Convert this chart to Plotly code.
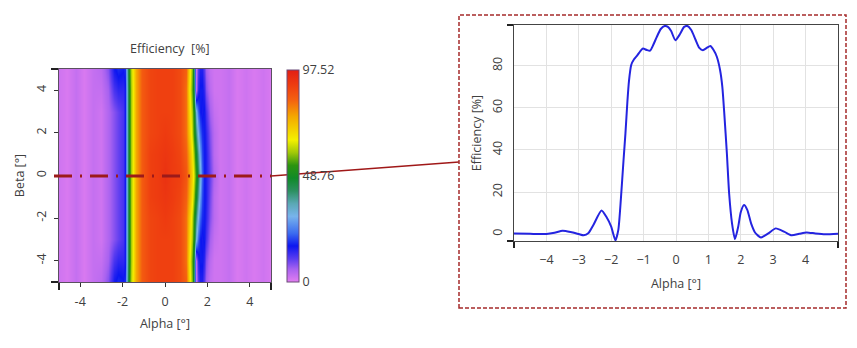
import plotly.graph_objects as go

W, H = 857, 348

# ---------------- heatmap data (Efficiency [%] vs Alpha/Beta) ----------------
alpha_grid = [-5.0, -4.6, -4.2, -3.8, -3.4, -3.0, -2.7, -2.4, -2.2, -2.0, -1.9, -1.8, -1.7,
              -1.6, -1.5, -1.35, -1.1, -0.7, -0.35, 0.0, 0.35, 0.7, 1.0, 1.15, 1.25, 1.35,
              1.45, 1.55, 1.65, 1.75, 1.85, 1.95, 2.1, 2.3, 2.6, 3.0, 3.4, 3.8, 4.2, 4.6, 5.0]
beta_grid = [-5, -4, -3, -2, -1, 0, 1, 2, 3, 4, 5]

row_b0 = [2, 1, 3, 1, 3, 2, 5, 8, 10, 12, 16, 34, 50, 60, 66, 76, 85, 90, 91, 93, 91, 90, 86,
          78, 70, 62, 53, 43, 33, 22, 17, 15, 10, 5, 2, 3, 1, 2, 1, 2, 1]
row_b1 = [2, 1, 3, 1, 3, 2, 5, 8, 10, 12, 16, 34, 50, 60, 66, 76, 85, 90, 91, 92, 91, 89, 84,
          76, 67, 58, 48, 38, 28, 20, 17, 15, 9, 4, 2, 3, 1, 2, 1, 2, 1]
row_b2 = [2, 1, 3, 1, 3, 2, 5, 8, 10, 12, 16, 34, 50, 60, 66, 76, 85, 89, 90, 91, 90, 88, 82,
          72, 62, 52, 40, 30, 22, 18, 17, 14, 8, 4, 2, 3, 1, 2, 1, 2, 1]
row_b3 = [2, 1, 3, 1, 3, 2, 5, 8, 10, 12, 16, 34, 50, 60, 66, 76, 85, 89, 90, 90, 90, 88, 82,
          70, 60, 50, 32, 22, 17, 16, 17, 12, 6, 3, 2, 3, 1, 2, 1, 2, 1]
row_b4 = [2, 1, 3, 1, 3, 3, 6, 12, 14, 14, 16, 34, 50, 60, 66, 76, 85, 89, 90, 90, 90, 88, 82,
          68, 56, 42, 4, 14, 17, 17, 14, 8, 4, 2, 2, 3, 1, 2, 1, 2, 1]
row_b5 = [2, 1, 3, 1, 3, 4, 8, 16, 18, 17, 18, 36, 52, 61, 67, 76, 85, 89, 90, 90, 90, 88, 84,
          70, 58, 40, 3, 11, 15, 15, 11, 6, 3, 2, 2, 3, 1, 2, 1, 2, 1]
heat_rows = [row_b5, row_b4, row_b3, row_b2, row_b1, row_b0, row_b1, row_b2, row_b3, row_b4, row_b5]

eff_min, eff_max = 0, 97.52
cbar_tickvals = [0, 48.76, 97.52]
cbar_ticktext = ["0", "48.76", "97.52"]

heat_ticks = [-4, -2, 0, 2, 4]
heat_ticktext = ["-4", "-2", "0", "2", "4"]

# ---------------- cut at Beta = 0 ----------------
alpha_cut = [-5.0, -4.5, -4.0, -3.75, -3.5, -3.25, -3.0, -2.85, -2.7, -2.55, -2.3, -2.15, -2.0,
             -1.87, -1.78, -1.7, -1.62, -1.56, -1.5, -1.45, -1.38, -1.3, -1.2, -1.1, -1.02,
             -0.9, -0.8, -0.7, -0.6, -0.47, -0.35, -0.25, -0.15, -0.02, 0.12, 0.25, 0.35,
             0.47, 0.6, 0.72, 0.83, 0.95, 1.06, 1.16, 1.26, 1.36, 1.43, 1.49, 1.57, 1.64,
             1.73, 1.82, 1.92, 2.0, 2.1, 2.2, 2.32, 2.45, 2.62, 2.85, 3.08, 3.35, 3.57, 3.8,
             4.03, 4.3, 4.6, 5.0]
eff_cut = [0.3, 0.1, 0.0, 0.6, 1.6, 1.0, 0.0, -0.6, 0.5, 4.3, 11.2, 8.2, 3.5,
           -3.0, 2.0, 17, 35, 48, 63, 73, 80.5, 83, 84.8, 87, 88.2,
           87.5, 87.2, 90, 93.5, 97.5, 98.9, 98.5, 96.5, 92.2, 95, 98.5, 98.9,
           97, 92.5, 88.5, 87.4, 88.5, 89.4, 87.5, 84.3, 78, 70, 57.4, 38.4, 19.3,
           5, -2.4, 3.5, 10.5, 13.8, 11.5, 5, 0.5, -1.6, 0.3, 2.7, 1.0, -0.6, 0.1,
           0.8, 0.3, -0.1, 0.2]
cut_xticks = [-4, -3, -2, -1, 0, 1, 2, 3, 4]
cut_yticks = [0, 20, 40, 60, 80]
cut_yrange = [-3.3, 99.4]

colorscale = [
    [0.00, "#e27ef0"], [0.06, "#a862f0"], [0.11, "#5a3cf0"], [0.17, "#0c16f0"],
    [0.23, "#3c6cf0"], [0.31, "#78b4ec"], [0.37, "#5aa8b4"], [0.43, "#2c9060"],
    [0.49, "#108a28"], [0.55, "#2c9410"], [0.61, "#a0c808"], [0.67, "#f4f000"],
    [0.78, "#f4a800"], [0.86, "#f46010"], [0.93, "#ee3c10"], [1.00, "#e21e14"],
]

FONT = "Open Sans, Noto Sans, sans-serif"
TXT = "#404040"
FS = 12.5

fig = go.Figure()
fig.add_trace(go.Heatmap(
    x=alpha_grid, y=beta_grid, z=heat_rows, zsmooth="best",
    colorscale=colorscale, zmin=eff_min, zmax=eff_max,
    xaxis="x", yaxis="y",
    colorbar=dict(
        x=287 / W, xanchor="left", y=1 - 176 / H, yanchor="middle",
        len=212 / H, lenmode="fraction", thickness=12, xpad=0, ypad=0,
        outlinewidth=1, outlinecolor="#6a4a78",
        tickvals=cbar_tickvals, ticktext=cbar_ticktext, ticks="",
        tickfont=dict(family=FONT, size=FS, color=TXT),
    ),
    hoverinfo="skip",
))
fig.add_trace(go.Scatter(
    x=alpha_cut, y=eff_cut, mode="lines",
    line=dict(color="#2424e0", width=2, shape="spline", smoothing=0.6),
    xaxis="x2", yaxis="y2", showlegend=False, hoverinfo="skip",
))

axis_font = dict(family=FONT, size=FS, color=TXT)

fig.update_layout(
    width=W, height=H, margin=dict(l=0, r=0, t=0, b=0),
    paper_bgcolor="white", plot_bgcolor="white", showlegend=False,
    font=dict(family=FONT, size=FS, color=TXT),
    xaxis=dict(
        domain=[59 / W, 271 / W], range=[-5, 5], anchor="y",
        tickvals=heat_ticks, ticktext=heat_ticktext, ticks="outside", ticklen=4,
        ticklabelstandoff=4,
        tickcolor="#333", tickfont=axis_font, showgrid=False, zeroline=False,
        showline=True, linecolor="#5a5060", linewidth=1, mirror=True,
        minor=dict(tickvals=[-5, 5], ticks="outside", ticklen=7, tickwidth=2, tickcolor="#222"),
        title=dict(text="Alpha [°]", font=axis_font, standoff=10),
    ),
    yaxis=dict(
        domain=[1 - 282 / H, 1 - 69 / H], range=[-5, 5], anchor="x",
        tickvals=heat_ticks, ticktext=heat_ticktext, ticks="outside", ticklen=4,
        ticklabelstandoff=3,
        tickangle=-90, tickcolor="#333", tickfont=axis_font, showgrid=False, zeroline=False,
        showline=True, linecolor="#5a5060", linewidth=1, mirror=True,
        minor=dict(tickvals=[-5, 5], ticks="outside", ticklen=7, tickwidth=2, tickcolor="#222"),
        title=dict(text="Beta [°]", font=axis_font, standoff=5),
    ),
    xaxis2=dict(
        domain=[514 / W, 838 / W], range=[-5, 5], anchor="y2",
        tickvals=cut_xticks, ticks="", tickfont=axis_font, ticklabelstandoff=7,
        showgrid=True, gridcolor="#e2e2e2", gridwidth=1, zeroline=False,
        showline=True, linecolor="#444", linewidth=1, mirror=True,
        minor=dict(tickvals=[-5, 5], ticks="outside", ticklen=6, tickwidth=2, tickcolor="#222"),
        title=dict(text="Alpha [°]", font=axis_font, standoff=12),
    ),
    yaxis2=dict(
        domain=[1 - 241 / H, 1 - 25 / H], range=cut_yrange, anchor="x2",
        tickvals=cut_yticks, ticks="", tickangle=-90, tickfont=axis_font,
        ticklabelstandoff=6,
        showgrid=True, gridcolor="#e2e2e2", gridwidth=1, zeroline=False,
        showline=True, linecolor="#444", linewidth=1, mirror=True,
        minor=dict(tickvals=cut_yrange, ticks="outside", ticklen=6, tickwidth=2, tickcolor="#222"),
        title=dict(text="Efficiency [%]", font=axis_font, standoff=4),
    ),
    annotations=[dict(
        text="Efficiency  [%]", x=170 / W, y=1 - 48 / H, xref="paper", yref="paper",
        showarrow=False, font=dict(family=FONT, size=FS, color=TXT),
        xanchor="center", yanchor="middle",
    )],
    shapes=[
        # dash-dot cut line across the heatmap at Beta = 0
        dict(type="line", xref="paper", yref="paper", x0=54 / W, x1=271 / W,
             y0=1 - 176 / H, y1=1 - 176 / H,
             line=dict(color="#9c1a1a", width=3, dash="18px,8px,2px,8px")),
        # connector to the zoom box
        dict(type="line", xref="paper", yref="paper", x0=271 / W, x1=459 / W,
             y0=1 - 176 / H, y1=1 - 162 / H,
             line=dict(color="#a01818", width=1.5)),
        # dashed frame around the cut chart
        dict(type="rect", xref="paper", yref="paper", x0=459 / W, x1=846 / W,
             y0=1 - 308 / H, y1=1 - 15 / H,
             line=dict(color="#a52a2a", width=1.5, dash="4px,2px")),
    ],
)

fig.write_html("out.html")
